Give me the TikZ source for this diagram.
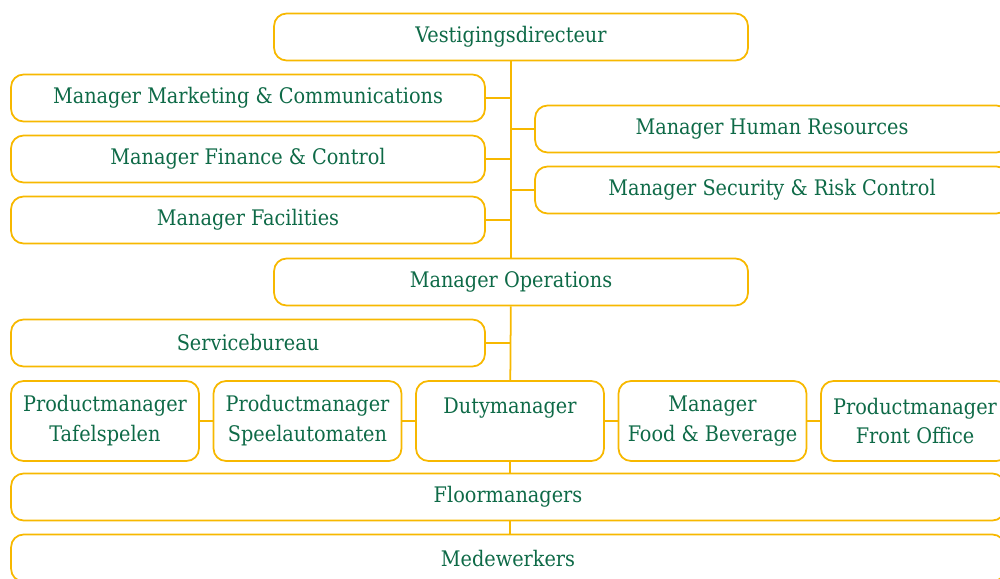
\documentclass[tikz,border=0pt]{standalone}
\usepackage{fontspec}
\setmainfont{DejaVu Serif Condensed}
\usepackage{tikz}

\definecolor{gold}{HTML}{F7B800}
\definecolor{darkgreen}{HTML}{0E6A47}

\begin{document}
\begin{tikzpicture}[x=0.02cm, y=-0.02cm, line width=1pt,
    box/.style = {draw=gold, rounded corners=0.25cm, minimum height=0.94cm,
        inner sep=0pt, text=darkgreen, align=center,
        font=\fontsize{12.2}{17}\selectfont},
    wide/.style = {box, minimum width=9.48cm},
    small/.style = {box, minimum width=3.76cm, minimum height=1.6cm}]
    \clip (0,0) rectangle (1000,578);

    \node[wide] (1) at (511,37) {Vestigingsdirecteur};
    \node[wide] (2) at (248,98) {Manager Marketing \& Communications};
    \node[wide] (3) at (248,159) {Manager Finance \& Control};
    \node[wide] (4) at (248,220) {Manager Facilities};
    \node[wide] (5) at (772,129) {Manager Human Resources};
    \node[wide] (6) at (772,190) {Manager Security \& Risk Control};
    \node[wide] (7) at (511,282) {Manager Operations};
    \node[wide] (8) at (248,343) {Servicebureau};

    \node[small] (9) at (105,421) {Productmanager\\Tafelspelen};
    \node[small] (10) at (307.5,421) {Productmanager\\Speelautomaten};
    \node[small] (11) at (510,421) {Dutymanager\\\mbox{}};
    \node[small] (12) at (712.5,421) {Manager\\Food \& Beverage};
    \node[small] (13) at (915,421) {Productmanager\\Front Office};

    \node[box, minimum width=19.88cm] (14) at (508,497) {Floormanagers};
    \node[box, minimum width=19.88cm] (15) at (508,558) {Medewerkers};

    \path[draw=gold] (1) edge (7);
    \path[draw=gold] (7) edge (11);
    \path[draw=gold] (11.south) edge (11.south |- 14.north);
    \path[draw=gold] (14.south -| 11.south) edge (15.north -| 11.south);

    \path[draw=gold] (2.east) edge (2.east -| 1.south);
    \path[draw=gold] (3.east) edge (3.east -| 1.south);
    \path[draw=gold] (4.east) edge (4.east -| 1.south);
    \path[draw=gold] (5.west) edge (5.west -| 1.south);
    \path[draw=gold] (6.west) edge (6.west -| 1.south);
    \path[draw=gold] (8.east) edge (8.east -| 7.south);

    \path[draw=gold] (9) edge (10);
    \path[draw=gold] (10) edge (11);
    \path[draw=gold] (11) edge (12);
    \path[draw=gold] (12) edge (13);
\end{tikzpicture}
\end{document}
